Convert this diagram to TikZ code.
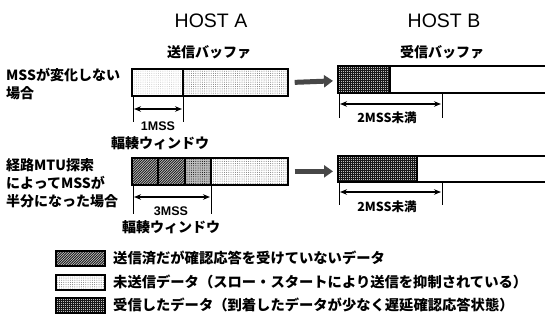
\documentclass[tikz,border=0pt]{standalone}
\usepackage{fontspec}
\setmainfont{Noto Sans CJK JP}
\newfontfamily\hostfont{Liberation Sans}
\usetikzlibrary{patterns,arrows.meta}
\pgfdeclarepatternformonly{fdots}{\pgfqpoint{-1pt}{-1pt}}{\pgfqpoint{1pt}{1pt}}{\pgfqpoint{2.2pt}{2.2pt}}{\pgfpathcircle{\pgfqpoint{0pt}{0pt}}{0.5pt}\pgfusepath{fill}}
\pgfdeclarepatternformonly{fhatch}{\pgfqpoint{-1pt}{-1pt}}{\pgfqpoint{3.5pt}{3.5pt}}{\pgfqpoint{2.5pt}{2.5pt}}{\pgfsetlinewidth{0.75pt}\pgfpathmoveto{\pgfqpoint{0pt}{0pt}}\pgfpathlineto{\pgfqpoint{2.6pt}{2.6pt}}\pgfusepath{stroke}}
\pgfdeclarepatternformonly{fgrid}{\pgfqpoint{-1pt}{-1pt}}{\pgfqpoint{3pt}{3pt}}{\pgfqpoint{2pt}{2pt}}{\pgfsetlinewidth{0.6pt}\pgfpathmoveto{\pgfqpoint{0pt}{-0.5pt}}\pgfpathlineto{\pgfqpoint{0pt}{2.5pt}}\pgfpathmoveto{\pgfqpoint{-0.5pt}{0pt}}\pgfpathlineto{\pgfqpoint{2.5pt}{0pt}}\pgfusepath{stroke}}
\begin{document}
\begin{tikzpicture}[x=1pt,y=-1pt,
  txt/.style={inner sep=0pt,font=\bfseries\fontsize{14}{16}\selectfont},
  small/.style={inner sep=0pt,font=\bfseries\fontsize{12.5}{14}\selectfont},
  mss/.style={inner sep=0pt,font=\hostfont\bfseries\fontsize{12.5}{14}\selectfont},
  lgtxt/.style={inner sep=0pt,anchor=west,font=\bfseries\fontsize{14.3}{16}\selectfont},
  host/.style={inner sep=0pt,font=\hostfont\fontsize{19.5}{21}\selectfont},
  buf/.style={draw=black,line width=1.7pt,inner sep=0pt,anchor=north west},
  sentpat/.style={preaction={fill=black!15},pattern=fhatch,pattern color=black!90},
  lightpat/.style={pattern=fdots,pattern color=black!22},
  unsentpat/.style={pattern=fdots,pattern color=black!55},
  recvpat/.style={preaction={fill=black!25},pattern=fgrid,pattern color=black!90},
  midpat/.style={preaction={fill=black!25},pattern=fdots,pattern color=black},
  tick/.style={line width=1pt},
  dim/.style={line width=1.3pt,{Stealth[length=7pt,width=5.5pt]}-{Stealth[length=7pt,width=5.5pt]}},
  big/.style={line width=5pt,black!72,-{Triangle[length=9pt,width=12pt]}},
  lgbox/.style={draw=black,line width=1.5pt,inner sep=0pt,minimum width=49pt,minimum height=15pt,anchor=north west}
]
\useasboundingbox (0,0) rectangle (545,322);

% titles
\node[host] (ha) at (211,21) {HOST A};
\node[host] (hb) at (444,21) {HOST B};
\node[txt] (sbuf) at (209,52) {送信バッファ};
\node[txt] (rbuf) at (442,52) {受信バッファ};

% left labels
\node[txt,anchor=west] (l1a) at (6,75) {MSSが変化しない};
\node[txt,anchor=west] (l1b) at (6,93) {場合};
\node[txt,anchor=west] (l2a) at (6,165) {経路MTU探索};
\node[txt,anchor=west] (l2b) at (6,183) {によってMSSが};
\node[txt,anchor=west] (l2c) at (6,201) {半分になった場合};

% ---- row 1 ----
\node[buf,minimum width=156pt,minimum height=27pt] (a1) at (131,68) {};
\fill[lightpat] (a1.north west) rectangle ([xshift=52pt]a1.south west);
\fill[unsentpat] ([xshift=52pt]a1.north west) rectangle (a1.south east);
\draw[line width=1.5pt] ([xshift=52pt]a1.north west) -- ([xshift=52pt]a1.south west);
\node[buf,minimum width=156pt,minimum height=27pt] at (131,68) {};

\coordinate (b1nw) at (338,66);
\coordinate (b1sw) at (338,93);
\coordinate (b1ne) at (546,66);
\coordinate (b1se) at (546,93);
\coordinate (b1m1) at (390,66);
\coordinate (b1m2) at (390,93);
\fill[recvpat] (b1nw) rectangle (b1m2);
\draw[line width=1.7pt] (b1ne) -- (b1nw) -- (b1sw) -- (b1se);
\draw[line width=1.5pt] (b1m1) -- (b1m2);

\draw[big] ([xshift=6pt]a1.east) -- ([xshift=-5pt,yshift=1.5pt]b1nw |- a1.east);

% dims row 1
\coordinate (t1a) at (133,95); \coordinate (t1ae) at (133,122);
\coordinate (t1b) at (183,95); \coordinate (t1be) at (183,122);
\draw[tick] (t1a) -- (t1ae);
\draw[tick] (t1b) -- (t1be);
\coordinate (d1a) at (134,109); \coordinate (d1b) at (182,109);
\draw[dim] (d1a) -- (d1b);
\node[mss] (m1) at (158,126) {1MSS};
\node[txt] (w1) at (160,143) {輻輳ウィンドウ};

\coordinate (u1a) at (339,93); \coordinate (u1ae) at (339,118);
\coordinate (u1b) at (442,93); \coordinate (u1be) at (442,118);
\draw[tick] (u1a) -- (u1ae);
\draw[tick] (u1b) -- (u1be);
\coordinate (e1a) at (340,104); \coordinate (e1b) at (441,104);
\draw[dim] (e1a) -- (e1b);
\node[small] (n1) at (387,118) {2MSS未満};

% ---- row 2 ----
\node[buf,minimum width=156pt,minimum height=27pt] (a2) at (131,157) {};
\fill[sentpat] (a2.north west) rectangle ([xshift=54pt]a2.south west);
\fill[midpat] ([xshift=54pt]a2.north west) rectangle ([xshift=80pt]a2.south west);
\fill[unsentpat] ([xshift=80pt]a2.north west) rectangle (a2.south east);
\draw[line width=1.5pt] ([xshift=27pt]a2.north west) -- ([xshift=27pt]a2.south west);
\draw[line width=1.5pt] ([xshift=54pt]a2.north west) -- ([xshift=54pt]a2.south west);
\draw[line width=1.5pt] ([xshift=80pt]a2.north west) -- ([xshift=80pt]a2.south west);
\node[buf,minimum width=156pt,minimum height=27pt] at (131,157) {};

\coordinate (b2nw) at (338,156);
\coordinate (b2sw) at (338,182);
\coordinate (b2ne) at (546,156);
\coordinate (b2se) at (546,182);
\coordinate (b2m1) at (417,156);
\coordinate (b2m2) at (417,182);
\fill[recvpat] (b2nw) rectangle (b2m2);
\draw[line width=1.7pt] (b2ne) -- (b2nw) -- (b2sw) -- (b2se);
\draw[line width=1.5pt] (b2m1) -- (b2m2);

\draw[big] ([xshift=6pt]a2.east) -- ([xshift=-5pt]b2nw |- a2.east);

% dims row 2
\coordinate (t2a) at (133,184); \coordinate (t2ae) at (133,214);
\coordinate (t2b) at (211,184); \coordinate (t2be) at (211,214);
\draw[tick] (t2a) -- (t2ae);
\draw[tick] (t2b) -- (t2be);
\coordinate (d2a) at (134,197); \coordinate (d2b) at (210,197);
\draw[dim] (d2a) -- (d2b);
\node[mss] (m2) at (171,211) {3MSS};
\node[txt] (w2) at (171,227) {輻輳ウィンドウ};

\coordinate (u2a) at (339,182); \coordinate (u2ae) at (339,205);
\coordinate (u2b) at (442,182); \coordinate (u2be) at (442,205);
\draw[tick] (u2a) -- (u2ae);
\draw[tick] (u2b) -- (u2be);
\coordinate (e2a) at (340,192); \coordinate (e2b) at (441,192);
\draw[dim] (e2a) -- (e2b);
\node[small] (n2) at (387,207) {2MSS未満};

% ---- legend ----
\node[lgbox,sentpat] (g1) at (55,250) {};
\node[lgbox,unsentpat] (g2) at (55,274) {};
\node[lgbox,recvpat] (g3) at (55,297) {};
\node[lgtxt] (g1t) at (113,258) {送信済だが確認応答を受けていないデータ};
\node[lgtxt] (g2t) at (113,282) {未送信データ（スロー・スタートにより送信を抑制されている）};
\node[lgtxt] (g3t) at (113,305) {受信したデータ（到着したデータが少なく遅延確認応答状態）};
\end{tikzpicture}
\end{document}
